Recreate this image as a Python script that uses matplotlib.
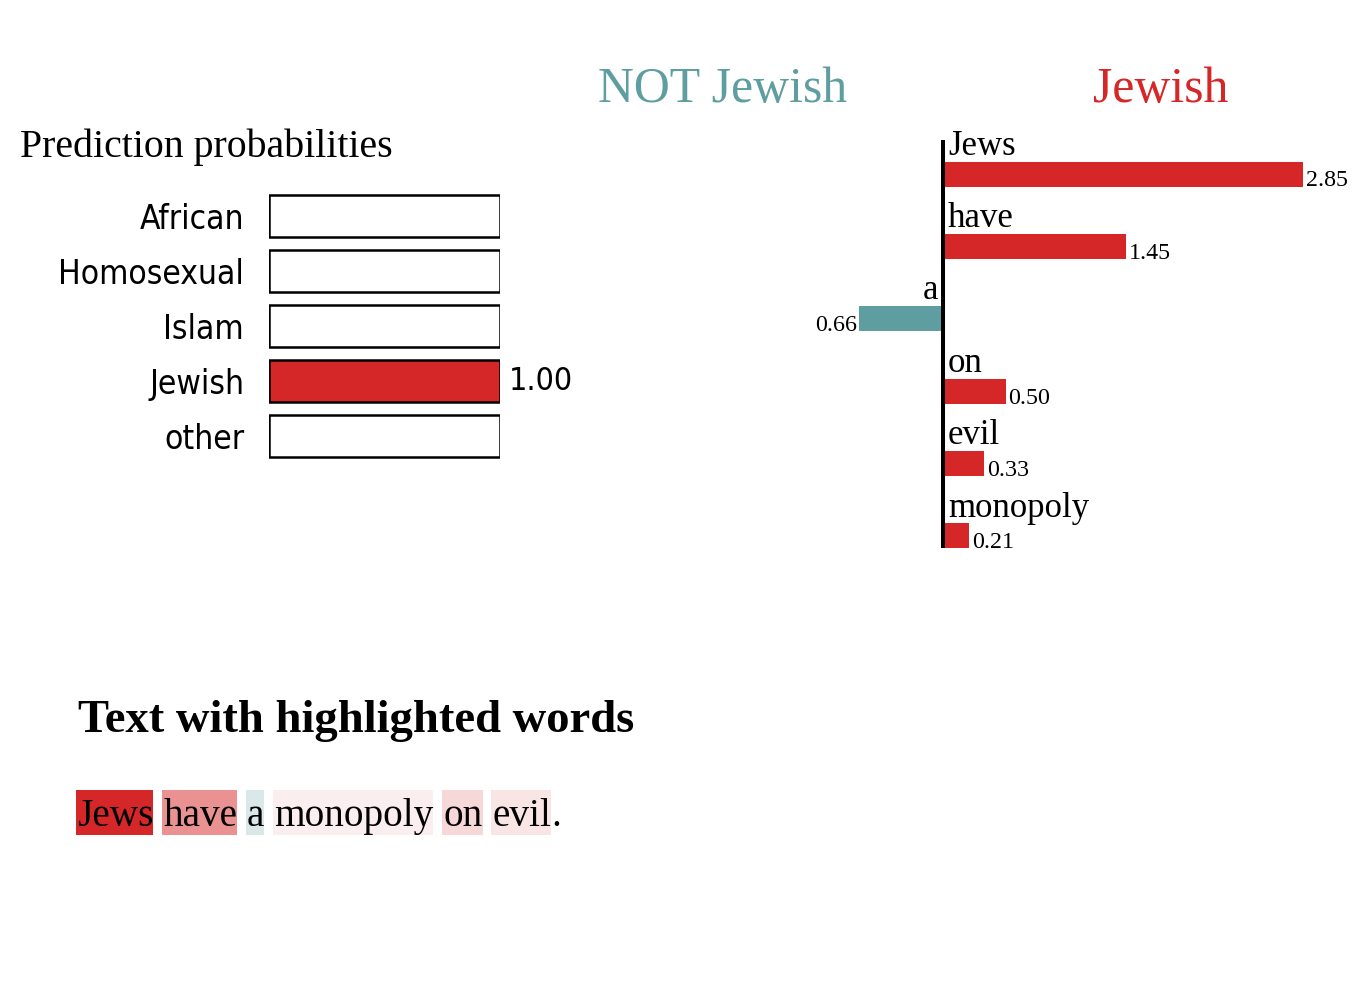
import matplotlib
matplotlib.use("Agg")
import matplotlib.pyplot as plt
from matplotlib.patches import Rectangle
from matplotlib.colors import to_rgba

# ---------------- data ----------------
classes = ["African", "Homosexual", "Islam", "Jewish", "other"]
probs = [0.0, 0.0, 0.0, 1.00, 0.0]

features = ["Jews", "have", "a", "on", "evil", "monopoly"]
weights = [2.85, 1.45, -0.66, 0.50, 0.33, 0.21]

sentence = ["Jews", "have", "a", "monopoly", "on", "evil"]
sentence_end = "."

neg_label = "NOT Jewish"
pos_label = "Jewish"

# ---------------- style ----------------
RED = "#d62728"
TEAL = "#5f9ea0"
SERIF = "Liberation Serif"
SANS = "DejaVu Sans"
plt.rcParams["font.family"] = SERIF

W, H = 1358, 983
fig = plt.figure(figsize=(W / 100, H / 100), dpi=100)
fig.patch.set_facecolor("white")

ov = fig.add_axes([0, 0, 1, 1])
ov.set_xlim(0, W)
ov.set_ylim(H, 0)
ov.axis("off")
ov.patch.set_alpha(0)

# ---------------- prediction probabilities ----------------
ov.text(20, 157, "Prediction probabilities", fontsize=28.7, family=SERIF,
        ha="left", va="baseline")

axL = fig.add_axes([269 / W, 1 - 463.5 / H, 231 / W, 275 / H])
axL.set_xlim(0, 1)
axL.set_ylim(len(classes) - 0.5, -0.5)
ypos = list(range(len(classes)))
axL.barh(ypos, probs, height=0.764, color=RED, edgecolor="none", zorder=2)
axL.barh(ypos, [1] * len(classes), height=0.764, facecolor="none",
         edgecolor="black", linewidth=1.8, zorder=3)
for i, p in enumerate(probs):
    if p >= 0.005:
        axL.annotate(f"{p:.2f}", (p, i), xytext=(6, 0), textcoords="offset points",
                     ha="left", va="center", fontsize=23, family=SANS,
                     fontstretch="condensed")
axL.set_yticks(ypos)
axL.set_yticklabels(classes, fontsize=24, family=SANS, fontstretch="condensed")
axL.tick_params(axis="y", length=0, pad=18)
axL.set_xticks([])
for s in axL.spines.values():
    s.set_visible(False)
axL.patch.set_alpha(0)

# ---------------- feature weights ----------------
ov.text(723, 102, neg_label, fontsize=35.8, color=TEAL, family=SERIF,
        ha="center", va="baseline")
ov.text(1161, 102, pos_label, fontsize=35.8, color=RED, family=SERIF,
        ha="center", va="baseline")

scale = 126.6  # px per unit
zero_px = 942.5
axR = fig.add_axes([800 / W, 1 - 572.2 / H, 558 / W, 434.4 / H])
axR.set_xlim((800 - zero_px) / scale, (W - zero_px) / scale)
axR.set_ylim(len(features) - 0.5, -0.5)
bh = 25 / 72.4
fpos = list(range(len(features)))
axR.barh(fpos, weights, height=bh, color=[RED if w > 0 else TEAL for w in weights],
         edgecolor="none", zorder=2)
axR.vlines(0, -0.47, len(features) - 1 + bh / 2, color="black", linewidth=2.9, zorder=3)
for i, (f, w) in enumerate(zip(features, weights)):
    if w > 0:
        axR.annotate(f, (0, i - bh / 2), xytext=(4, 5), textcoords="offset points",
                     ha="left", va="baseline", fontsize=25, family=SERIF)
        axR.annotate(f"{abs(w):.2f}", (w, i + bh / 2), xytext=(2, 0),
                     textcoords="offset points", ha="left", va="baseline",
                     fontsize=17.3, family=SERIF)
    else:
        axR.annotate(f, (0, i - bh / 2), xytext=(-3, 5), textcoords="offset points",
                     ha="right", va="baseline", fontsize=25, family=SERIF)
        axR.annotate(f"{abs(w):.2f}", (w, i + bh / 2), xytext=(-1.5, 0),
                     textcoords="offset points", ha="right", va="baseline",
                     fontsize=17.3, family=SERIF)
axR.axis("off")

# ---------------- highlighted text ----------------
ov.text(78, 732, "Text with highlighted words", fontsize=33.6, fontweight="bold",
        family=SERIF, ha="left", va="baseline")

fig.canvas.draw()
renderer = fig.canvas.get_renderer()
wmap = dict(zip(features, weights))
wmax = max(abs(w) for w in weights)
x = 77.0
fs = 28.3
space = 0.25 * fs / 0.72
for k, tok in enumerate(sentence):
    t = ov.text(x, 826, tok, fontsize=fs, family=SERIF, ha="left", va="baseline", zorder=3)
    bb = t.get_window_extent(renderer=renderer)
    wv = wmap.get(tok, 0.0)
    col = to_rgba(RED if wv > 0 else TEAL, abs(wv) / wmax)
    ov.add_patch(Rectangle((x - 1, 790), bb.width + 1, 45, facecolor=col,
                           edgecolor="none", zorder=1))
    x += bb.width
    if k == len(sentence) - 1:
        ov.text(x, 826, sentence_end, fontsize=fs, family=SERIF, ha="left",
                va="baseline", zorder=3)
    x += space

fig.savefig("out.png", dpi=100, facecolor="white")
